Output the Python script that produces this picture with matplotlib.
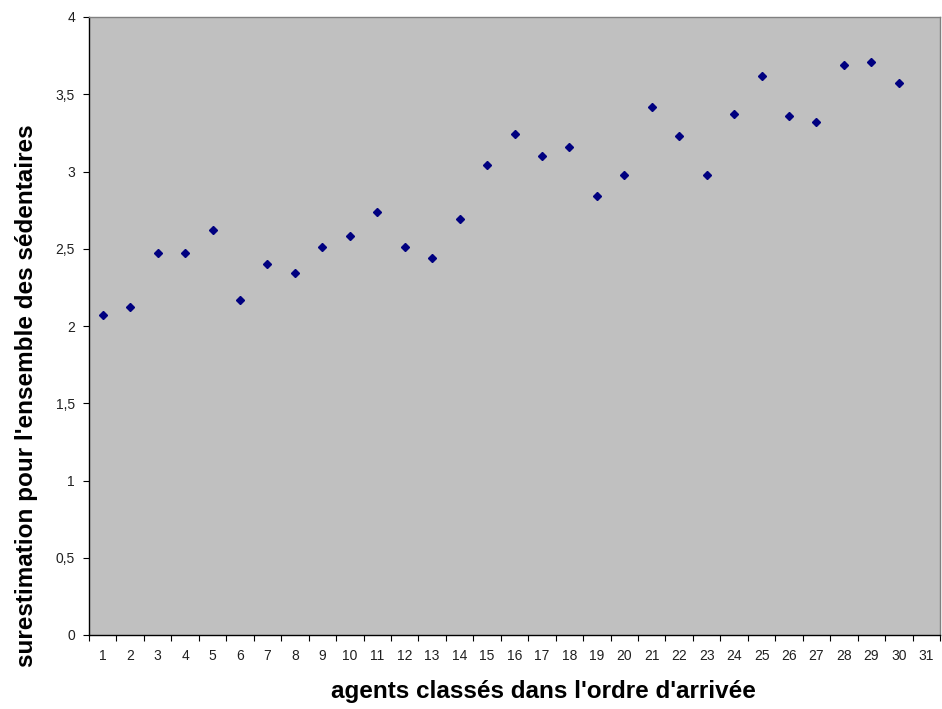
import matplotlib.pyplot as plt
import numpy as np

plt.rcParams['font.family'] = ['Liberation Sans', 'DejaVu Sans']

# rang d'arrivée des agents et surestimation
agents = list(range(1, 31))
surestimation = [2.07, 2.12, 2.47, 2.47, 2.62, 2.17, 2.40, 2.34, 2.51, 2.58,
                 2.74, 2.51, 2.44, 2.69, 3.04, 3.24, 3.10, 3.16, 2.84, 2.98,
                 3.42, 3.23, 2.98, 3.37, 3.62, 3.36, 3.32, 3.69, 3.71, 3.57]
categories = list(range(1, 32))
y_ticks = [0, 0.5, 1, 1.5, 2, 2.5, 3, 3.5, 4]
y_labels = ['0', '0,5', '1', '1,5', '2', '2,5', '3', '3,5', '4']

fig = plt.figure(figsize=(9.42, 7.09), dpi=100)
ax = fig.add_axes([89 / 942, 1 - 635 / 709, (940 - 89) / 942, (635 - 17) / 709])
ax.set_facecolor('#c0c0c0')

ax.plot(agents, surestimation, linestyle='none', marker='D', markersize=3.8,
        color='#000080', markeredgecolor='#000080', zorder=3)

ax.set_xlim(0.5, 31.5)
ax.set_ylim(0, 4)

# graduations aux limites des catégories, libellés au centre
ax.set_xticks(np.arange(0.5, 32, 1))
ax.set_xticklabels([])
ax.set_xticks(categories, minor=True)
ax.set_xticklabels([str(c) for c in categories], minor=True, fontsize=10,
                   color='#202020')
ax.tick_params(axis='x', which='major', length=4, width=0.8, direction='out')
ax.tick_params(axis='x', which='minor', length=0, pad=10)

ax.set_yticks(y_ticks)
ax.set_yticklabels(y_labels, fontsize=10, color='#202020')
ax.tick_params(axis='y', length=4, width=0.8, direction='out', pad=6)

for side in ['left', 'bottom']:
    ax.spines[side].set_color('black')
    ax.spines[side].set_linewidth(1.0)
for side in ['top', 'right']:
    ax.spines[side].set_color('#808080')
    ax.spines[side].set_linewidth(1.0)

ax.set_xlabel("agents classés dans l'ordre d'arrivée", fontsize=17.5,
              fontweight='bold', va='center')
ax.xaxis.set_label_coords(0.5335, -0.092)
ax.set_ylabel("surestimation pour l'ensemble des sédentaires", fontsize=17.5,
              fontweight='bold', va='center')
ax.yaxis.set_label_coords(-0.074, 0.388)

fig.savefig('out.png', dpi=100)
